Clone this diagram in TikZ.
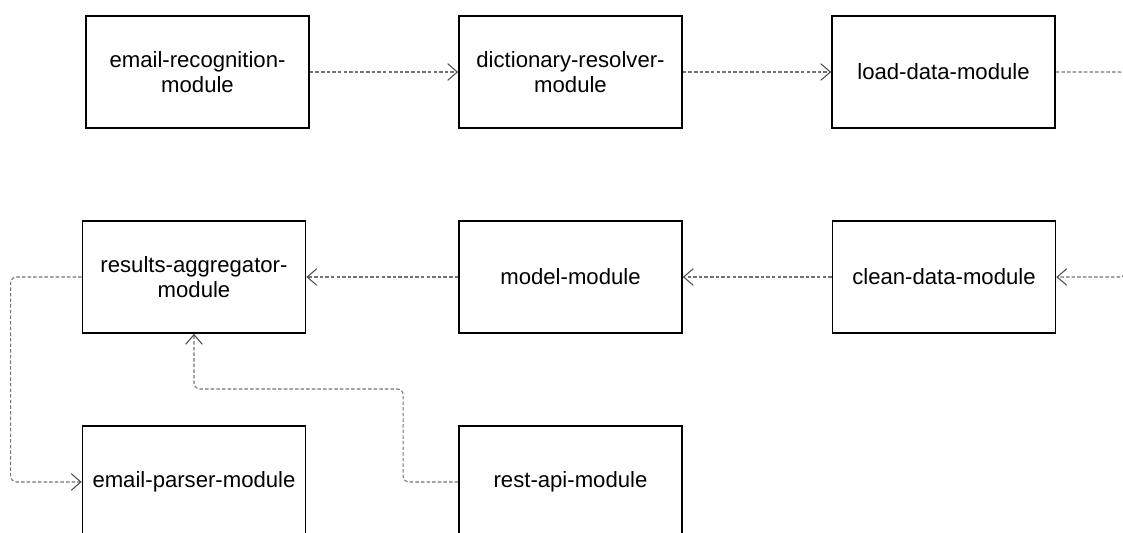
\documentclass[tikz,border=0pt]{standalone}
\usepackage{fontspec}
\setmainfont{Liberation Sans}
\usetikzlibrary{arrows.meta}

\begin{document}
\begin{tikzpicture}[x=0.02cm,y=-0.02cm,
  module/.style={draw,line width=1pt,minimum width=4.46cm,minimum height=2.24cm,
    inner sep=0pt,align=center,font=\fontsize{12.6}{14.2}\selectfont},
  flow/.style={draw=black!55,line width=0.6pt,dash pattern=on 2pt off 1.2pt,
    rounded corners=0.12cm,-{Straight Barb[length=5.5pt,width=9.5pt,black!70]}}]
  \clip (0,0) rectangle (1123,533);
  % first row
  \node[module] (recog) at (197.5,72) {email-recognition-\\module};
  \node[module] (dict) at (570.5,72) {dictionary-resolver-\\module};
  \node[module] (load) at (943.5,72) {load-data-module};
  % second row
  \node[module] (results) at (194,277) {results-aggregator-\\module};
  \node[module] (model) at (570.5,277) {model-module};
  \node[module] (clean) at (944,277) {clean-data-module};
  % third row
  \node[module] (parser) at (194,482) {email-parser-module};
  \node[module] (rest) at (570.5,482) {rest-api-module};
  % connectors
  \draw[flow] (recog) -- (dict);
  \draw[flow] (dict) -- (load);
  \draw[flow] (load.east) -- ++(70,0) |- (clean.east);
  \draw[flow] (clean) -- (model);
  \draw[flow] (model) -- (results);
  \draw[flow] (results.west) -- ++(-71,0) |- (parser.west);
  \draw[flow] (rest.west) -- ++(-55,0) -- ++(0,-93) -| (results.south);
\end{tikzpicture}
\end{document}
